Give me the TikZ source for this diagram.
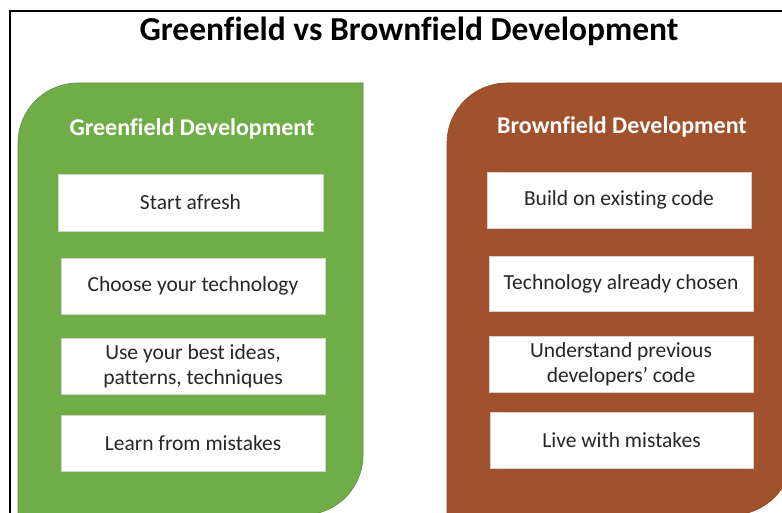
\documentclass[tikz,border=0pt]{standalone}
\usepackage{fontspec}
\setmainfont{Carlito}[Ligatures=CommonOff]
\definecolor{gfill}{HTML}{70AD47}
\definecolor{gedge}{HTML}{5A8F38}
\definecolor{bfill}{HTML}{A0522D}
\definecolor{bedge}{HTML}{8E4826}
\definecolor{boxtext}{HTML}{262626}
\tikzset{
  itembox/.style={draw=black!18, line width=0.5pt, fill=white, text=boxtext,
    inner sep=0pt, align=center, font=\fontsize{21.5}{25}\selectfont},
  paneltitle/.style={text=white, anchor=base, inner sep=0pt, font=\fontsize{24}{28}\selectfont\bfseries},
  maintitle/.style={text=black, anchor=base, inner sep=0pt, font=\fontsize{33.5}{38}\selectfont\bfseries}
}
\begin{document}
\begin{tikzpicture}[x=1pt,y=1pt]
\useasboundingbox (0,0) rectangle (782,-513);
\clip (0,0) rectangle (782,-513);
\fill[white] (0,0) rectangle (782,-513);
% outer frame
\draw[line width=2pt, black] (10,-530) -- (10,-11) -- (800,-11);
% title
\node[maintitle] (title) at (409,-40.5) {Greenfield vs Brownfield Development};
% green panel
\draw[fill=gfill, draw=gedge, line width=0.6pt]
  (18,-520) -- (18,-143) arc[start angle=180,end angle=90,radius=60]
  -- (363,-83) -- (363,-455) arc[start angle=0,end angle=-90,radius=60] -- cycle;
% brown panel
\draw[fill=bfill, draw=bedge, line width=0.6pt]
  (447,-520) -- (447,-143) arc[start angle=180,end angle=90,radius=60]
  -- (792,-83) -- (792,-455) arc[start angle=0,end angle=-90,radius=60] -- cycle;
% panel titles
\node[paneltitle] (ghead) at (192,-136) {Greenfield Development};
\node[paneltitle] (bhead) at (622,-134) {Brownfield Development};
% green boxes
\node[itembox, minimum width=265pt, minimum height=57pt] (g1) at (190.5,-202.5) {Start afresh};
\node[itembox, minimum width=264pt, minimum height=56pt] (g2) at (193,-286) {Choose your technology};
\node[itembox, minimum width=264pt, minimum height=56pt] (g3) at (193,-366) {Use your best ideas,\\patterns, techniques};
\node[itembox, minimum width=264pt, minimum height=56pt] (g4) at (193,-443) {Learn from mistakes};
% brown boxes
\node[itembox, minimum width=264pt, minimum height=56pt] (b1) at (619,-200) {Build on existing code};
\node[itembox, minimum width=264pt, minimum height=55pt] (b2) at (621,-283.5) {Technology already chosen};
\node[itembox, minimum width=264pt, minimum height=56pt] (b3) at (621,-364) {Understand previous\\developers’ code};
\node[itembox, minimum width=263pt, minimum height=56pt] (b4) at (621.5,-440) {Live with mistakes};
\end{tikzpicture}
\end{document}
